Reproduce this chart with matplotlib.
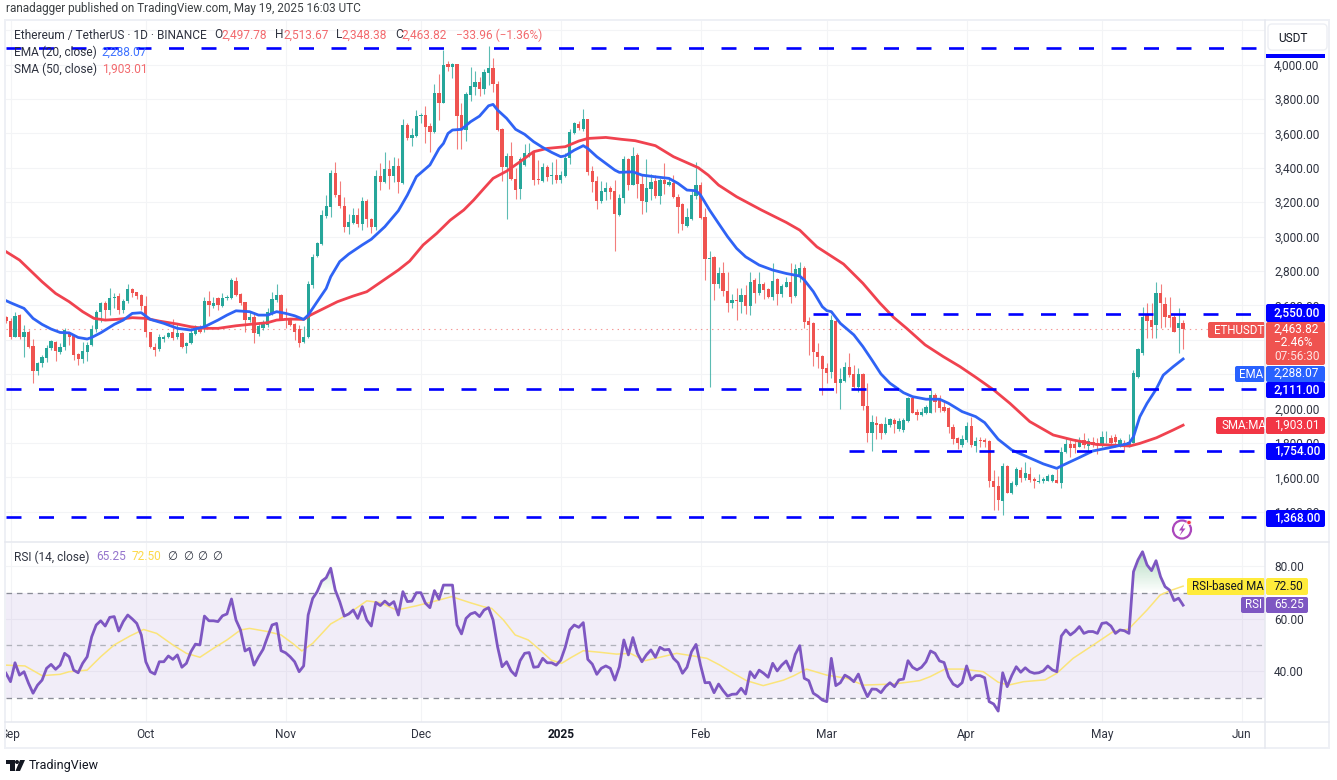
import numpy as np
import pandas as pd
import matplotlib
matplotlib.use("Agg")
import matplotlib.pyplot as plt
from matplotlib.patches import Rectangle, FancyBboxPatch, Circle, Polygon
from matplotlib.path import Path

plt.rcParams['font.family'] = ['Roboto', 'DejaVu Sans']
plt.rcParams['lines.scale_dashes'] = False

# ---------- data ----------
dates = pd.date_range('2024-08-31', '2025-05-19', freq='D')

opens = [2530,
 2508,2417,2541,2413,2446,2365,2220,2262,2291,2349,
 2388,2330,2355,2433,2421,2315,2286,2330,2369,2462,
 2559,2611,2572,2640,2654,2572,2627,2692,2675,2659,
 2596,2442,2359,2344,2402,2413,2442,2413,2440,2363,
 2378,2433,2475,2466,2627,2596,2642,2596,2640,2640,
 2743,2665,2617,2514,2530,2433,2466,2485,2557,2630,
 2659,2524,2514,2489,2460,2384,2413,2716,2887,2954,
 3119,3173,3367,3241,3179,3057,3080,3125,3073,3208,
 3100,3057,3352,3319,3392,3352,3412,3313,3648,3571,
 3584,3702,3706,3642,3606,3832,3778,4002,3987,4000,
 3706,3619,3822,3871,3900,3857,3952,3981,3886,3623,
 3406,3469,3332,3274,3415,3473,3493,3332,3324,3406,
 3353,3357,3328,3351,3454,3599,3654,3623,3681,3380,
 3322,3208,3260,3280,3264,3125,3221,3448,3299,3473,
 3305,3202,3278,3324,3235,3328,3299,3312,3231,3189,
 3061,3101,3237,3299,3115,2868,2879,2722,2786,2685,
 2612,2631,2621,2660,2598,2747,2670,2722,2693,2647,
 2751,2664,2709,2738,2654,2767,2819,2509,2495,2331,
 2306,2234,2211,2511,2147,2162,2240,2199,2127,2201,
 2017,1856,1914,1908,1856,1904,1933,1879,1875,1928,
 2059,1982,1963,1972,1976,2079,2054,2011,2001,1895,
 1827,1788,1817,1899,1782,1817,1817,1811,1581,1550,
 1464,1666,1511,1556,1643,1594,1620,1589,1573,1581,
 1581,1581,1585,1569,1747,1794,1794,1778,1817,1782,
 1807,1797,1788,1832,1826,1836,1788,1797,1788,1801,
 2185,2320,2549,2514,2485,2669,2607,2543,2534,2466,
 2497.78]

highs = [2535,
 2524,2559,2547,2485,2456,2404,2270,2311,2369,2398,
 2392,2378,2466,2441,2427,2320,2388,2388,2485,2572,
 2621,2627,2698,2669,2669,2634,2723,2702,2679,2663,
 2654,2446,2378,2433,2427,2446,2518,2495,2446,2388,
 2466,2483,2485,2650,2685,2646,2646,2673,2660,2756,
 2766,2673,2621,2563,2563,2495,2514,2582,2679,2721,
 2665,2582,2524,2495,2485,2479,2743,2900,2970,3154,
 3241,3387,3435,3325,3232,3131,3164,3164,3228,3216,
 3106,3387,3425,3493,3445,3464,3454,3683,3658,3629,
 3735,3716,3759,3662,3885,3945,4084,4022,4006,4002,
 3774,3842,3983,3964,3925,3971,4107,4035,3906,3628,
 3483,3547,3396,3464,3537,3541,3502,3444,3425,3415,
 3435,3448,3382,3483,3623,3667,3671,3739,3685,3409,
 3351,3322,3318,3295,3328,3247,3468,3454,3522,3487,
 3357,3448,3363,3357,3338,3425,3338,3357,3245,3192,
 3163,3266,3435,3318,3163,2916,2887,2821,2854,2796,
 2666,2699,2699,2718,2796,2757,2792,2738,2699,2848,
 2757,2724,2767,2844,2840,2854,2829,2530,2505,2379,
 2311,2263,2544,2519,2234,2269,2321,2253,2234,2209,
 2147,1963,1957,1918,1949,1947,1943,1943,1943,2069,
 2069,1996,2001,2021,2108,2092,2079,2050,2011,1910,
 1837,1846,1924,1953,1837,1837,1831,1817,1643,1608,
 1682,1672,1581,1662,1658,1691,1662,1604,1618,1600,
 1620,1618,1651,1775,1833,1817,1823,1837,1855,1826,
 1836,1826,1871,1869,1846,1852,1826,1817,1852,2224,
 2350,2592,2611,2611,2737,2722,2650,2650,2543,2582,
 2513.67]

lows = [2500,
 2402,2413,2406,2301,2349,2146,2194,2243,2272,2340,
 2276,2315,2340,2369,2282,2253,2262,2276,2363,2446,
 2504,2518,2543,2586,2549,2553,2615,2646,2634,2572,
 2413,2349,2307,2336,2388,2408,2398,2402,2349,2324,
 2375,2427,2437,2446,2537,2582,2572,2592,2630,2634,
 2654,2601,2446,2501,2382,2421,2456,2475,2543,2621,
 2514,2466,2479,2398,2355,2378,2408,2700,2880,2950,
 3106,3115,3232,3164,3028,3013,3073,3057,3038,3057,
 3022,3038,3270,3313,3274,3319,3251,3303,3561,3528,
 3580,3658,3545,3493,3600,3677,3774,3964,3919,3506,
 3508,3557,3789,3822,3816,3828,3880,3842,3615,3324,
 3099,3328,3216,3216,3409,3460,3299,3305,3314,3324,
 3305,3312,3312,3347,3421,3595,3619,3615,3357,3260,
 3157,3192,3212,3216,2915,3121,3192,3270,3299,3221,
 3130,3140,3212,3221,3187,3250,3293,3221,3022,3037,
 3053,3095,3216,3099,2747,2127,2631,2699,2654,2563,
 2583,2515,2554,2550,2544,2612,2660,2635,2641,2631,
 2602,2651,2705,2612,2647,2738,2466,2311,2247,2234,
 2079,2147,2176,2092,1996,2156,2182,2118,2098,1992,
 1807,1755,1821,1821,1852,1895,1860,1871,1866,1924,
 1972,1933,1957,1968,1972,1982,1982,1982,1856,1794,
 1763,1778,1807,1778,1749,1775,1778,1542,1410,1410,
 1381,1507,1503,1550,1575,1585,1575,1536,1565,1569,
 1577,1575,1565,1536,1744,1720,1740,1775,1768,1739,
 1778,1735,1778,1797,1778,1774,1778,1755,1778,1797,
 2180,2311,2408,2408,2408,2466,2476,2476,2446,2320,
 2348.38]

closes = [2510,
 2413,2537,2413,2446,2355,2220,2266,2297,2353,2392,
 2334,2359,2456,2413,2311,2286,2336,2369,2462,2563,
 2611,2572,2644,2650,2572,2627,2692,2669,2656,2596,
 2442,2355,2340,2413,2413,2437,2408,2440,2359,2378,
 2437,2470,2446,2627,2601,2611,2601,2640,2650,2747,
 2658,2611,2514,2530,2437,2481,2499,2563,2634,2659,
 2518,2514,2485,2446,2378,2417,2723,2883,2964,3125,
 3177,3371,3241,3179,3053,3086,3125,3073,3208,3102,
 3057,3352,3319,3392,3352,3412,3319,3648,3571,3590,
 3700,3706,3638,3606,3832,3778,3997,3987,4002,3700,
 3619,3826,3876,3900,3859,3958,3977,3884,3619,3406,
 3469,3332,3270,3448,3483,3487,3328,3328,3402,3347,
 3357,3328,3357,3454,3605,3657,3628,3681,3376,3318,
 3208,3264,3280,3260,3130,3221,3448,3299,3469,3305,
 3208,3280,3318,3235,3328,3305,3316,3227,3173,3072,
 3111,3241,3299,3109,2867,2873,2722,2786,2683,2612,
 2631,2627,2660,2596,2738,2670,2722,2689,2651,2744,
 2664,2714,2738,2651,2811,2815,2505,2486,2327,2298,
 2228,2209,2515,2147,2170,2240,2195,2127,2201,2015,
 1860,1920,1904,1856,1910,1937,1910,1930,1933,2059,
 1976,1963,1978,2011,2079,2040,2001,1988,1891,1821,
 1798,1821,1899,1788,1813,1811,1807,1581,1546,1468,
 1666,1511,1565,1647,1594,1623,1585,1581,1581,1589,
 1608,1614,1569,1749,1794,1769,1769,1807,1788,1813,
 1788,1788,1836,1836,1797,1807,1817,1791,1807,2208,
 2344,2534,2510,2476,2673,2611,2534,2524,2446,2495,
 2463.82]

ema_days = [-1,0,3,5,7,9,11,13,15,17,18,20,23,25,27,29,31,34,37,40,43,46,48,50,53,55,57,59,61,63,65,66,68,70,71,
 73,75,78,80,83,86,88,90,93,95,96,97,98,100,102,104,106,107,108,110,112,114,116,118,120,122,123,125,127,128,130,
 132,134,135,138,140,143,146,148,150,152,153,155,157,159,161,163,166,169,172,175,176,178,180,181,182,184,187,189,
 191,193,195,198,200,203,206,208,211,214,216,219,222,225,229,232,233,237,240,244,248,249,250.4,252,254,255.6,257.8,260]
ema_vals = [2627,2615,2582,2524,2489,2462,2442,2440,2413,2404,2413,2440,2489,2514,2553,2557,2518,2495,2466,2456,2475,2514,2543,2568,2563,2543,2543,2563,2553,2539,2518,2543,2621,2698,2766,
 2854,2898,2951,2984,3057,3150,3241,3348,3416,3510,3541,3599,3619,3623,3667,3700,3760,3768,3735,3687,3623,3594,3551,3518,3489,3464,3469,3502,3528,3512,3464,
 3425,3386,3373,3376,3357,3347,3338,3309,3270,3266,3241,3154,3076,2999,2931,2882,2834,2805,2785,2770,2747,2680,2592,2569,2563,2495,2428,2360,
 2282,2201,2147,2092,2069,2054,2054,2030,1982,1953,1918,1821,1759,1724,1678,1652,1666,1715,1753,1774,1797,1836,1952,2030,2111,2194,2243,2288.07]

sma_days = [-1,2,4.3,7,10,13,16,18.5,21,23.5,27,30,33,37,40,43,46,50,53,57,59,62,65,66.5,69.5,72.5,76,79,83,86,88.5,91.5,94.5,
 97.5,100.5,102.7,105,107,110,113,116,119,123,126,128,132,135.5,138.5,143,147,152.5,154.7,157,161,166.5,172,175,178.8,
 184.7,189,192.8,195.8,198.7,202.8,206.8,210.5,214,218,221.6,226,231.2,235.6,240.8,248.2,250.4,254.1,257.8,260]
sma_vals = [2912,2863,2805,2737,2669,2621,2563,2524,2514,2518,2528,2524,2508,2491,2475,2466,2466,2481,2489,2499,2514,2520,2518,2543,2582,2621,2654,2679,2751,2805,2857,2951,3018,
 3095,3154,3212,3280,3338,3380,3435,3493,3512,3522,3555,3570,3576,3565,3557,3528,3464,3400,3357,3299,3231,3154,3082,3037,2940,
 2840,2728,2612,2530,2466,2370,2302,2244,2182,2108,2030,1924,1846,1817,1791,1782,1797,1830,1875,1903.01]

rsi = [39.3,
 36.1,43.3,38.6,39.9,35.5,31.7,34.8,36.7,41.2,42.7,
 40.8,42.4,46.9,45.6,40.5,39.5,43.1,45.6,53.2,57.7,
 59.3,57.3,60.6,60.9,55.4,59,61.5,60,58.3,53.9,
 43.7,39.9,39,43.7,43.7,45.9,44.6,46.3,41.6,43.1,
 47.5,50.4,50.1,61.1,59.3,59.3,59,61.2,61.9,67.6,
 59.6,55.8,47.8,48.8,42.4,45.6,48.4,53.2,57.7,58.3,
 47.9,47.1,45.6,43.7,39.9,42.1,61.5,67.8,70.4,74.4,
 75.7,79.3,71,66.6,61.1,61.9,63.4,60.2,64.7,59.6,
 57.3,66.3,65.1,66.8,65.3,66.6,61.5,70.4,66.6,66.8,
 70,70,66,64.3,70.8,67.5,72.9,72.9,72.9,57.7,
 54.3,60.2,61.9,62.5,60.9,63.4,64.3,59.6,49.4,41.8,
 43.7,40.2,38.4,44.1,46.9,47.2,41.6,41.8,45,43.3,
 43.3,42.4,44.3,49.2,55.8,57.7,56.8,58.6,44.6,42.8,
 38.9,41.2,42.1,41.2,36.7,41.8,52,46.3,52.9,46.9,
 43.7,46.3,48.2,45.4,49.2,48.2,48.4,45,43.3,39.3,
 41.6,47.5,50.3,42.4,35.7,35.8,31.9,35.2,32.7,30.6,
 31.3,31.4,33.6,31.4,39.9,37.6,40.5,39.3,37.8,43.1,
 40.2,42.4,44,40.2,46.5,49.8,37.4,36.5,31.7,30.6,
 29.1,28.5,45,34.6,35.7,38.6,37.6,36.1,39,34.2,
 30.4,33.3,33.2,31.9,34.2,35.7,34.2,36.8,37.1,44.1,
 41.6,40.6,41.6,43.7,47.8,46.9,44,43.4,38,35.2,
 34.2,35.7,42.1,36.8,38.4,38.4,37.6,28.5,27.6,24.9,
 39.5,34.2,38.4,41.8,39.7,41.4,39.9,39.3,39.5,40.2,
 42.1,40.6,39.9,53.5,55.8,53.9,55.2,57.1,54.5,55.2,
 55.2,54.5,58.3,58.6,57.3,54.5,55.8,55.5,54.5,78,
 82.5,85.6,80.6,78.4,82.2,76.1,72.3,71,67,67.9,
 65.25]

rsima_days = [-1,3.2,7,11,13,17,20,23,26.5,29.5,32.4,36,39,42,45,48,51,53,57,60,62.7,64.6,67,71,74.5,79,82,85.6,90,93.7,
 97.8,101.9,104.8,106.7,109.3,111.9,114.8,117.4,119.9,122.2,124.4,127,130.7,134.4,137.4,140.7,144,147.7,151.4,154.4,157.3,160.3,163.2,166.9,171.4,173.6,176.5,181,185.4,189.1,
 195.8,201.6,203.9,207.2,211.3,215.7,219,221.3,224.6,229.4,232,235.6,240.1,244.5,247.9,252,254.9,257.5,260]
rsima_vals = [42.4,42.1,38.4,38.9,39.9,40.5,45.6,50.1,53.5,56,54.5,50.1,46.9,45.4,48.8,52,55.8,56.4,55.2,53.9,50.5,47.8,50.7,58.1,61.5,66.9,66.2,63.4,65,66.6,
 68.5,66.2,64.7,64,59.6,53.9,52,48.2,44.3,43.1,45.4,47.9,47.3,46.6,46.9,44.1,45.4,46.9,45.9,45,42.4,39.3,36.5,34.6,36.7,38.3,40.9,38.6,37.4,34.8,
 35.2,36.5,38,40.9,40.9,39.9,35.9,34.8,36.1,36.8,39.3,45,50.1,55.2,56.1,63.4,69.1,71,72.5]

levels = [4094, 2550, 2111, 1754, 1368]
level_starts = [-1, 178, -1, 186, -1]
price_ticks = [4200,4000,3800,3600,3400,3200,3000,2800,2600,2000,1800,1600,1400,2400,2200]
price_labels = {4000:'4,000.00',3800:'3,800.00',3600:'3,600.00',3400:'3,400.00',3200:'3,200.00',3000:'3,000.00',
                2800:'2,800.00',2600:'2,600.00',2000:'2,000.00',1800:'1,800.00',1600:'1,600.00',1400:'1,400.00'}
rsi_ticks = [80, 60, 40]
month_labels = ['Sep','Oct','Nov','Dec','2025','Feb','Mar','Apr','May','Jun']
month_starts = pd.date_range('2024-09-01', '2025-06-01', freq='MS')
last_price = 2463.82

# ---------- layout ----------
W, H = 1337, 780
fig = plt.figure(figsize=(W/100, H/100), dpi=100, facecolor='white')
def axpx(x0, y0, x1, y1, **k):
    return fig.add_axes([x0/W, 1-y1/H, (x1-x0)/W, (y1-y0)/H], **k)

GREEN, RED = '#26a69a', '#ef5350'
EMA_C, SMA_C, RSI_C, MA_C = '#2f63f5', '#f0424f', '#7e57c2', '#fbe47a'
GRID = '#f3f4f6'
TXT = '#2f3340'
FS = 8.6
FS2 = 8.3

X0, X1 = 6, 1265
d0 = (X0-10.5)/4.51
d1 = (X1-10.5)/4.51
days = np.array([(d-pd.Timestamp('2024-09-01')).days for d in dates], dtype=float)
mdays = [(m-pd.Timestamp('2024-09-01')).days for m in month_starts]

o, h, l, c = map(np.array, (opens, highs, lows, closes))
assert len({len(dates), len(o), len(h), len(l), len(c), len(rsi)}) == 1, (len(dates), len(o), len(h), len(l), len(c), len(rsi))

# ---------- price pane ----------
ax = axpx(X0, 20.5, X1, 542)
ax.set_xlim(d0, d1)
ax.set_ylim(4000-(542-64.5)/.172, 4000+(64.5-20.5)/.172)
for s in ax.spines.values():
    s.set_visible(False)
ax.set_axisbelow(True)
ax.set_xticks(mdays)
ax.set_yticks(price_ticks)
ax.set_yticklabels([price_labels.get(t, '') for t in price_ticks])
ax.yaxis.tick_right()
ax.tick_params(axis='y', length=0, pad=6.5, labelsize=FS, labelcolor=TXT)
ax.tick_params(axis='x', length=0, labelbottom=False)
ax.grid(True, color=GRID, lw=0.8)

up = c >= o
col = np.where(up, GREEN, RED)
ax.vlines(days, l, h, colors=col, lw=0.8, alpha=.75, zorder=2)
ax.bar(days, np.maximum(np.abs(c-o), 3), bottom=np.minimum(o, c), width=.72, color=col, lw=0, zorder=3)
ax.axhline(last_price, color=RED, lw=.8, ls=(0, (1, 3)), alpha=.6, zorder=1.5)
ax.plot(sma_days, sma_vals, color=SMA_C, lw=2, zorder=4, solid_joinstyle='round')
ax.plot(ema_days, ema_vals, color=EMA_C, lw=2, zorder=5, solid_joinstyle='round')
for lv, st in zip(levels, level_starts):
    ax.plot([d0 if st < 0 else st, d1], [lv, lv], color='#0000ff', lw=1.9, ls=(0, (10.8, 12.6)), zorder=6)

# ---------- RSI pane ----------
ar = axpx(X0, 543, X1, 721.5)
ar.set_xlim(d0, d1)
ar.set_ylim(70-(721.5-592.7)/2.625, 70+(592.7-543)/2.625)
for s in ar.spines.values():
    s.set_visible(False)
ar.set_axisbelow(True)
ar.set_xticks(mdays)
ar.set_yticks(rsi_ticks)
ar.set_yticklabels([f'{t:.2f}' for t in rsi_ticks])
ar.yaxis.tick_right()
ar.tick_params(axis='y', length=0, pad=6.5, labelsize=FS, labelcolor=TXT)
ar.tick_params(axis='x', length=0, labelbottom=False)
ar.grid(True, color=GRID, lw=0.8, zorder=0)
ar.axhspan(30, 70, color=RSI_C, alpha=.1, lw=0, zorder=1)
for v in (70, 50, 30):
    ar.axhline(v, color='#8a8d97' if v != 50 else '#b0b2ba', lw=.95, ls=(0, (4, 3.5)), zorder=2)
r = np.array(rsi)
poly = ar.fill_between(days, 70, r, where=r > 70, interpolate=True, color='none', lw=0)
paths = poly.get_paths()
if paths:
    g = np.linspace(1, 0, 64).reshape(-1, 1)
    rgba = np.zeros((64, 1, 4)); rgba[..., 0] = .15; rgba[..., 1] = .6; rgba[..., 2] = .3; rgba[..., 3] = g[:, :]*.38
    im = ar.imshow(rgba, extent=(d0, d1, 70, 87), aspect='auto', origin='upper', zorder=2, interpolation='bilinear')
    im.set_clip_path(Path.make_compound_path(*paths), transform=ar.transData)
ar.set_xlim(d0, d1)
ar.set_ylim(70-(721.5-592.7)/2.625, 70+(592.7-543)/2.625)
ar.plot(rsima_days, rsima_vals, color=MA_C, lw=1.1, zorder=3)
ar.plot(days, r, color=RSI_C, lw=2, zorder=4, solid_joinstyle='round')

# ---------- time axis ----------
at = axpx(X0, 721.5, X1, 748)
at.set_xlim(d0, d1); at.set_ylim(0, 1); at.axis('off')
for m, lab in zip(mdays, month_labels):
    at.text(m, .52, lab, ha='center', va='center', fontsize=FS, color='#131722' if lab == '2025' else TXT,
            fontweight='bold' if lab == '2025' else 'normal', clip_on=True)

# ---------- overlay in picture pixels: frame, tags, legends ----------
ov = fig.add_axes([0, 0, 1, 1], facecolor='none', zorder=10)
ov.set_xlim(0, W); ov.set_ylim(H, 0); ov.axis('off')
BORDER = '#e6e8ef'
ov.add_patch(Rectangle((5, 20), 1324, 728, fill=False, ec='#eef0f5', lw=1.4))
ov.plot([X1, X1], [20, 748], color=BORDER, lw=1.1)
ov.plot([5, 1329], [542.3, 542.3], color=BORDER, lw=1.1)
ov.plot([5, 1329], [721.5, 721.5], color=BORDER, lw=1.1)

def T(x, y, s, color=TXT, size=FS, ha='left', **k):
    return ov.text(x, y, s, color=color, fontsize=size, ha=ha, va='center', **k)
def box(x0, y0, x1, y1, color):
    ov.add_patch(FancyBboxPatch((x0+1.5, y0+1.5), x1-x0-3, y1-y0-3, boxstyle='round,pad=1.5,rounding_size=2',
                                fc=color, ec='none', lw=0))

# USDT button
ov.add_patch(Rectangle((1266, 54), 59, 3.6, fc='#0000ff', ec='none'))
ov.add_patch(FancyBboxPatch((1270, 26), 55, 22, boxstyle='round,pad=2,rounding_size=4', fc='white', ec='#edeff4', lw=1))
T(1278, 38, 'USDT', color='#131722')

BLUE = '#0000ff'
for y0, y1, s in [(304, 322, '2,550.00'), (382, 398, '2,111.00'), (443, 460, '1,754.00'), (510, 527, '1,368.00')]:
    box(1266, y0, 1325, y1, BLUE)
    T(1274, (y0+y1)/2-.5, s, color='white', fontweight='medium')
box(1208, 322, 1265, 338, RED)
T(1214, 330, 'ETHUSDT', color='white', size=FS2)
box(1266, 322, 1325, 365, RED)
T(1274, 329, '2,463.82', color='white')
T(1274, 342.5, '\u22122.46%', color='white')
T(1274, 356, '07:56:30', color='#fde3e3')
box(1235, 366, 1265, 382, '#2962ff')
T(1239, 374, 'EMA', color='white', size=FS2)
box(1266, 366, 1325, 382, '#2962ff')
T(1274, 373.5, '2,288.07', color='white')
box(1216, 417, 1265, 434, '#f23645')
T(1221, 425.5, 'SMA:MA', color='white', size=FS2)
box(1266, 417, 1325, 434, '#f23645')
T(1274, 425.5, '1,903.01', color='white')
box(1187, 578, 1265, 595, '#ffeb3b')
T(1192, 586.5, 'RSI-based MA', color='#131722', size=FS2)
box(1266, 578, 1308, 595, '#ffeb3b')
T(1274, 586.5, '72.50', color='#131722')
box(1241, 597, 1265, 613, RSI_C)
T(1245, 605, 'RSI', color='white', size=FS2)
box(1266, 597, 1308, 613, RSI_C)
T(1274, 605, '65.25', color='white')

# legends
T(6, 8.5, 'ranadagger published on TradingView.com, May 19, 2025 16:03 UTC', color='#3c4043', size=8.45)
VR = '#f26a6e'
T(14, 35, 'Ethereum / TetherUS \u00b7 1D \u00b7 BINANCE')
for x, lab, xv, val in [(214, 'O', 222, '2,497.78'), (275, 'H', 283, '2,513.67'), (336, 'L', 342, '2,348.38'), (395, 'C', 402, '2,463.82')]:
    T(x, 35, lab)
    T(xv, 35, val, color=VR)
T(456, 35, '\u221233.96 (\u22121.36%)', color=VR)
T(14, 52, 'EMA (20, close)')
T(102, 52, '2,288.07', color='#3f73ff')
T(14, 69, 'SMA (50, close)')
T(102, 69, '1,903.01', color=VR)
T(14, 557, 'RSI (14, close)')
T(96, 557, '65.25', color='#9575cd')
T(132, 557, '72.50', color='#fdd94a')
for x in (172, 188, 202, 217):
    T(x, 557, '\u2205', ha='center', size=FS2)

# lightning badge
PUR = '#ab47bc'
ov.add_patch(Circle((1182, 529.5), 9, fc='white', ec=PUR, lw=1.6))
ov.add_patch(Polygon([(1184.5, 523), (1179, 530.5), (1182, 530.5), (1179.5, 536), (1185.5, 528.5), (1182.5, 528.5)], fc=PUR, ec='none'))
ov.add_patch(Circle((1189, 522.5), 2.2, fc='#f23645', ec='white', lw=.5))

# TradingView mark
k = '#131722'
ov.add_patch(Polygon([(6, 760), (14.5, 760), (14.5, 771), (10, 771), (10, 764), (6, 764)], fc=k, ec='none'))
ov.add_patch(Circle((17, 762), 2, fc=k, ec='none'))
ov.add_patch(Polygon([(20, 760), (25, 760), (20, 771), (15.5, 771)], fc=k, ec='none'))
T(29, 765.5, 'TradingView', color='#131722', size=9)

fig.savefig('out.png', dpi=100, facecolor='white')
